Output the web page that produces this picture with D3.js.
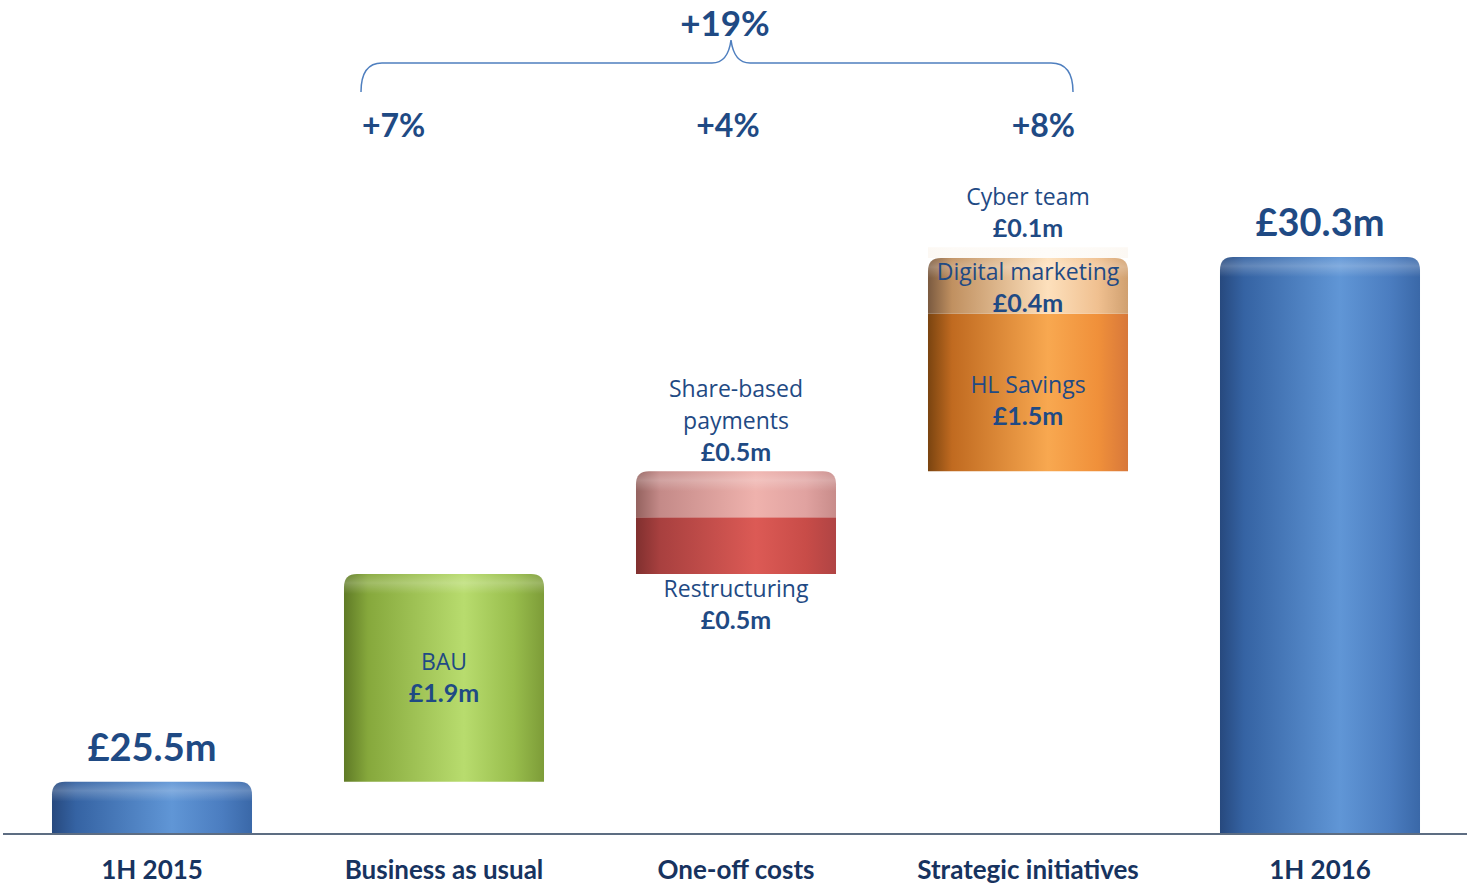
<!DOCTYPE html>
<html>
<head>
<meta charset="utf-8">
<script src="https://cdn.jsdelivr.net/npm/d3@7"></script>
<style>
  html, body { margin: 0; padding: 0; background: #fff; }
  svg { display: block; }
</style>
</head>
<body>
<div id="chart"></div>
<script>
// ---- data ----
const categories = ["1H 2015", "Business as usual", "One-off costs", "Strategic initiatives", "1H 2016"];
const totalCategories = ["1H 2015", "1H 2016"];
const totalValues = [25.5, 30.3];
const totalLabels = ["£25.5m", "£30.3m"];

// segment heights (labels are the rounded figures)
const segCategories = ["Business as usual", "One-off costs", "One-off costs", "Strategic initiatives", "Strategic initiatives", "Strategic initiatives"];
const segNames = ["BAU", "Restructuring", "Share-based payments", "HL Savings", "Digital marketing", "Cyber team"];
const segValues = [1.9, 0.52, 0.42, 1.44, 0.51, 0.1];
const segValueLabels = ["£1.9m", "£0.5m", "£0.5m", "£1.5m", "£0.4m", "£0.1m"];

const growthLabels = ["+7%", "+4%", "+8%"];
const totalGrowth = "+19%";

// ---- styles ----
const textColor = "#1f4a84";
const axisColor = "#17335f";
const palette = {
  blue:   ["#27497e", "#3563a3", "#6096d6", "#4b7dc0", "#3a68a8"],
  green:  ["#5f7a26", "#86a83c", "#b8dc6e", "#98bd4c", "#7d9c38"],
  red:    ["#80302f", "#a8403f", "#dc5a55", "#c84c48", "#b04444"],
  pink:   ["#94625f", "#c48a88", "#efb2ad", "#e0a2a0", "#c88c8a"],
  orange: ["#7a4410", "#c06a20", "#f8a850", "#f0903a", "#d8783a"],
  peach:  ["#7a5a40", "#c09060", "#fde0bc", "#f0c090", "#d0a070"],
  faint:  ["#fcf8f3", "#fdfaf6", "#fefcf9", "#fdfaf6", "#fcf8f3"]
};
const segStyle = {
  "BAU": { pal: "green", cap: true, label: "inside", shift: 0 },
  "Restructuring": { pal: "red", cap: false, label: "below" },
  "Share-based payments": { pal: "pink", cap: true, label: "above", lines: ["Share-based", "payments"] },
  "HL Savings": { pal: "orange", cap: false, label: "inside", shift: 8 },
  "Digital marketing": { pal: "peach", cap: true, label: "inside", shift: 2 },
  "Cyber team": { pal: "faint", cap: false, label: "above" }
};

const width = 1467, height = 886;
const baseY = 833;

const svg = d3.select("#chart").append("svg")
  .attr("width", width)
  .attr("height", height);

const defs = svg.append("defs");
Object.entries(palette).forEach(([k, cols]) => {
  const g = defs.append("linearGradient").attr("id", "g-" + k)
    .attr("x1", 0).attr("x2", 1).attr("y1", 0).attr("y2", 0);
  [0, 0.12, 0.6, 0.85, 1].forEach((o, i) => {
    g.append("stop").attr("offset", o).attr("stop-color", cols[i]);
  });
});
const capG = defs.append("linearGradient").attr("id", "cap")
  .attr("x1", 0).attr("x2", 0).attr("y1", 0).attr("y2", 1);
capG.append("stop").attr("offset", 0).attr("stop-color", "#fff").attr("stop-opacity", 0.05);
capG.append("stop").attr("offset", 0.45).attr("stop-color", "#fff").attr("stop-opacity", 0.22);
capG.append("stop").attr("offset", 1).attr("stop-color", "#fff").attr("stop-opacity", 0);

// ---- scales ----
const x = d3.scaleBand()
  .domain(categories)
  .range([6, 1466])
  .paddingInner(0.315)
  .paddingOuter(0.1575);

const y = d3.scaleLinear()
  .domain([25.03, 30.3])
  .range([baseY, 257]);

// rect with rounded top corners only
function barPath(x0, y0, w, h, r) {
  const p = d3.path();
  r = Math.min(r, h / 2);
  p.moveTo(x0, y0 + h);
  p.lineTo(x0, y0 + r);
  p.quadraticCurveTo(x0, y0, x0 + r, y0);
  p.lineTo(x0 + w - r, y0);
  p.quadraticCurveTo(x0 + w, y0, x0 + w, y0 + r);
  p.lineTo(x0 + w, y0 + h);
  p.closePath();
  return p.toString();
}

function drawBar(cat, v0, v1, pal, cap) {
  const x0 = x(cat), w = x.bandwidth();
  const top = y(v1), h = y(v0) - y(v1);
  svg.append("path")
    .attr("d", cap ? barPath(x0, top, w, h, 13) : barPath(x0, top, w, h, 0))
    .attr("fill", `url(#g-${pal})`);
  if (cap) {
    svg.append("path")
      .attr("d", barPath(x0, top, w, Math.min(20, h), 13))
      .attr("fill", "url(#cap)");
  }
}

// ---- baseline axis ----
const axis = svg.append("g")
  .attr("transform", `translate(0,${baseY + 1})`)
  .call(d3.axisBottom(x).tickSize(0).tickPadding(27));
axis.select(".domain")
  .attr("d", `M3,0H${width}`)
  .attr("stroke", "#5d6d82")
  .attr("stroke-width", 2);
axis.selectAll("text")
  .attr("fill", axisColor)
  .style("font-family", "Lato, 'Open Sans', sans-serif")
  .style("font-weight", "700")
  .style("font-size", "26px");

// ---- total bars ----
totalCategories.forEach((c, i) => {
  drawBar(c, y.domain()[0], totalValues[i], "blue", true);
  svg.append("text")
    .attr("x", x(c) + x.bandwidth() / 2)
    .attr("y", y(totalValues[i]) - 21)
    .attr("text-anchor", "middle")
    .attr("fill", textColor)
    .style("font-family", "Lato, sans-serif")
    .style("font-weight", "700")
    .style("font-size", "38px")
    .text(totalLabels[i]);
});

// ---- floating segments ----
let running = totalValues[0];
const segBounds = [];
segNames.forEach((n, i) => {
  const v0 = running, v1 = running + segValues[i];
  const st = segStyle[n];
  drawBar(segCategories[i], v0, v1, st.pal, st.cap);
  segBounds.push({ v0, v1 });
  running = v1;
});

// segment labels
segNames.forEach((n, i) => {
  const st = segStyle[n];
  const cx = x(segCategories[i]) + x.bandwidth() / 2;
  const lines = st.lines || [n];
  const b = segBounds[i];
  const lh = 32;
  let firstBase;
  const nLines = lines.length + 1;
  if (st.label === "inside") {
    const mid = (y(b.v0) + y(b.v1)) / 2;
    firstBase = mid - (nLines - 1) * lh / 2 + 8 + st.shift;
  } else if (st.label === "above") {
    firstBase = y(b.v1) - 10 - (nLines - 1) * lh;
  } else {
    firstBase = y(b.v0) + 23;
  }
  const t = svg.append("text")
    .attr("text-anchor", "middle")
    .attr("fill", textColor);
  lines.forEach((l, k) => {
    t.append("tspan")
      .attr("x", cx)
      .attr("y", firstBase + k * lh)
      .style("font-family", "'Open Sans', sans-serif")
      .style("font-size", "23px")
      .text(l);
  });
  t.append("tspan")
    .attr("x", cx)
    .attr("y", firstBase + lines.length * lh)
    .style("font-family", "Lato, sans-serif")
    .style("font-weight", "700")
    .style("font-size", "25px")
    .text(segValueLabels[i]);
});

// ---- growth brace ----
const bLeft = x("Business as usual") + 17;
const bRight = x("Strategic initiatives") + x.bandwidth() - 55;
const bMid = x("One-off costs") + x.bandwidth() / 2 - 5;
const bY = 63, bBottom = 92, bTip = 40;
const br = d3.path();
br.moveTo(bLeft, bBottom);
br.quadraticCurveTo(bLeft, bY, bLeft + 21, bY);
br.lineTo(bMid - 19, bY);
br.quadraticCurveTo(bMid - 3, bY, bMid, bTip);
br.quadraticCurveTo(bMid + 3, bY, bMid + 19, bY);
br.lineTo(bRight - 22, bY);
br.quadraticCurveTo(bRight, bY, bRight, bBottom);
svg.append("path")
  .attr("d", br.toString())
  .attr("fill", "none")
  .attr("stroke", "#4f7fbf")
  .attr("stroke-width", 1.5);

svg.append("text")
  .attr("x", bMid - 6)
  .attr("y", 36)
  .attr("text-anchor", "middle")
  .attr("fill", textColor)
  .style("font-family", "Lato, sans-serif")
  .style("font-weight", "700")
  .style("font-size", "35px")
  .text(totalGrowth);

const growthAnchors = [
  { x: bLeft + 1, anchor: "start" },
  { x: bMid - 3, anchor: "middle" },
  { x: bRight + 2, anchor: "end" }
];
growthLabels.forEach((g, i) => {
  svg.append("text")
    .attr("x", growthAnchors[i].x)
    .attr("y", 137)
    .attr("text-anchor", growthAnchors[i].anchor)
    .attr("fill", textColor)
    .style("font-family", "Lato, sans-serif")
    .style("font-weight", "700")
    .style("font-size", "32px")
    .text(g);
});
</script>
</body>
</html>
